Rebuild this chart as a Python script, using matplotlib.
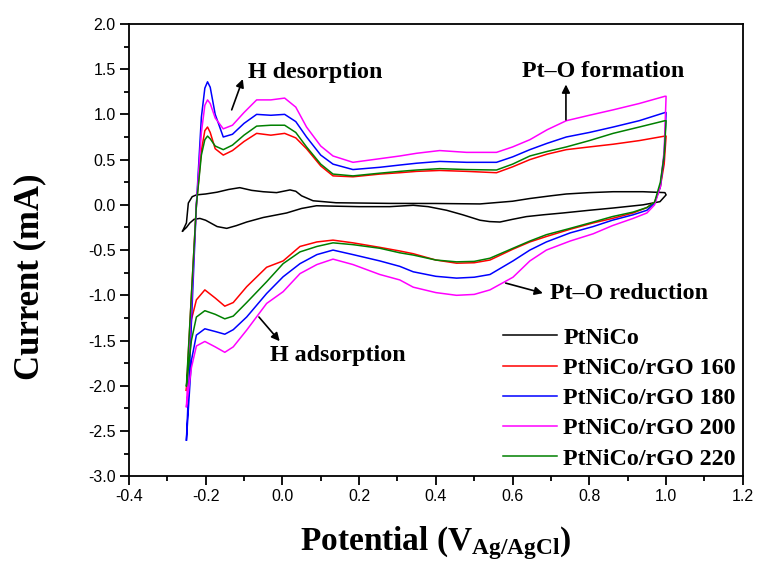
"""Cyclic voltammograms of PtNiCo and PtNiCo/rGO catalysts."""

import matplotlib
matplotlib.use("Agg")
from matplotlib import pyplot as plt
from matplotlib.ticker import MultipleLocator

# anodic sweep (-0.25 V -> 1.0 V), shared potential grid for rGO samples
xa = [-0.25, -0.237, -0.224, -0.211, -0.202, -0.195, -0.188, -0.175, -0.154,
      -0.13, -0.1, -0.067, -0.03, 0.006, 0.035, 0.063, 0.1, 0.132, 0.184,
      0.254, 0.306, 0.35, 0.41, 0.48, 0.558, 0.6, 0.645, 0.69, 0.74, 0.8,
      0.862, 0.93, 0.997, 1.0]
# cathodic sweep (1.0 V -> -0.25 V)
xc = [1.0, 0.995, 0.985, 0.97, 0.95, 0.914, 0.86, 0.81, 0.75, 0.688, 0.645,
      0.601, 0.541, 0.5, 0.454, 0.4, 0.341, 0.306, 0.254, 0.184, 0.132, 0.09,
      0.046, 0.002, -0.041, -0.093, -0.128, -0.15, -0.175, -0.202, -0.224,
      -0.237, -0.25]

red_a = [-2.05, -1.0, 0.0, 0.6, 0.82, 0.86, 0.80, 0.62, 0.55, 0.60, 0.70,
         0.79, 0.77, 0.79, 0.74, 0.62, 0.43, 0.32, 0.31, 0.34, 0.355, 0.37,
         0.38, 0.37, 0.355, 0.42, 0.50, 0.56, 0.61, 0.64, 0.67, 0.71, 0.76,
         0.76]
red_c = [0.76, 0.45, 0.2, 0.03, -0.03, -0.09, -0.15, -0.20, -0.27, -0.35,
         -0.41, -0.49, -0.61, -0.64, -0.645, -0.61, -0.54, -0.51, -0.47, -0.42,
         -0.39, -0.41, -0.46, -0.62, -0.69, -0.905, -1.08, -1.12, -1.03, -0.94,
         -1.05, -1.27, -2.05]

blue_a = [-2.60, -1.3, 0.0, 0.97, 1.29, 1.36, 1.30, 1.0, 0.75, 0.78, 0.90,
          1.0, 0.99, 1.0, 0.92, 0.75, 0.55, 0.45, 0.39, 0.415, 0.44, 0.46,
          0.48, 0.47, 0.47, 0.53, 0.61, 0.68, 0.75, 0.80, 0.86, 0.93, 1.02,
          1.02]
blue_c = [1.02, 0.55, 0.2, 0.02, -0.06, -0.11, -0.17, -0.24, -0.31, -0.41,
          -0.50, -0.62, -0.77, -0.80, -0.81, -0.79, -0.74, -0.68, -0.62, -0.55,
          -0.50, -0.55, -0.65, -0.795, -0.98, -1.24, -1.38, -1.43, -1.40, -1.37,
          -1.44, -1.72, -2.60]

mag_a = [-2.23, -1.1, 0.0, 0.8, 1.10, 1.16, 1.12, 0.96, 0.84, 0.88, 1.02,
         1.16, 1.16, 1.18, 1.08, 0.86, 0.65, 0.54, 0.47, 0.51, 0.54, 0.57,
         0.60, 0.58, 0.58, 0.64, 0.72, 0.83, 0.93, 0.99, 1.05, 1.12, 1.20,
         1.20]
mag_c = [1.20, 0.6, 0.2, 0.0, -0.09, -0.15, -0.23, -0.32, -0.40, -0.50,
         -0.62, -0.80, -0.94, -0.99, -1.0, -0.97, -0.91, -0.83, -0.77, -0.66,
         -0.60, -0.66, -0.76, -0.96, -1.09, -1.385, -1.57, -1.63, -1.57, -1.51,
         -1.56, -1.8, -2.23]

green_a = [-2.0, -1.0, 0.0, 0.55, 0.72, 0.76, 0.73, 0.65, 0.61, 0.66, 0.77,
           0.87, 0.88, 0.88, 0.80, 0.64, 0.45, 0.34, 0.32, 0.35, 0.37, 0.385,
           0.40, 0.39, 0.385, 0.45, 0.54, 0.59, 0.64, 0.71, 0.79, 0.86, 0.93,
           0.93]
green_c = [0.93, 0.55, 0.25, 0.03, -0.03, -0.08, -0.13, -0.19, -0.26, -0.33,
           -0.40, -0.48, -0.59, -0.625, -0.63, -0.61, -0.555, -0.53, -0.48,
           -0.44, -0.42, -0.46, -0.52, -0.65, -0.85, -1.08, -1.23, -1.26, -1.21,
           -1.17, -1.24, -1.5, -2.0]

# bare PtNiCo, its own grid
xk_a = [-0.26, -0.25, -0.245, -0.235, -0.224, -0.2, -0.17, -0.14, -0.111,
        -0.08, -0.05, -0.015, 0.02, 0.035, 0.05, 0.08, 0.14, 0.2, 0.28, 0.4,
        0.515, 0.6, 0.645, 0.7, 0.74, 0.8, 0.862, 0.94, 0.997, 1.0]
k_a = [-0.29, -0.2, 0.02, 0.09, 0.11, 0.12, 0.14, 0.17, 0.19, 0.16, 0.145,
       0.135, 0.165, 0.15, 0.10, 0.045, 0.023, 0.02, 0.016, 0.015, 0.01, 0.04,
       0.07, 0.10, 0.12, 0.135, 0.145, 0.145, 0.135, 0.11]
xk_c = [1.0, 0.984, 0.94, 0.862, 0.8, 0.731, 0.68, 0.636, 0.6, 0.567, 0.54,
        0.515, 0.47, 0.428, 0.38, 0.341, 0.28, 0.2, 0.141, 0.089, 0.05, 0.011,
        -0.05, -0.093, -0.12, -0.145, -0.17, -0.2, -0.215, -0.23, -0.241,
        -0.25, -0.26]
k_c = [0.11, 0.035, 0.0, -0.035, -0.06, -0.09, -0.11, -0.13, -0.16, -0.19,
       -0.185, -0.17, -0.11, -0.06, -0.02, -0.005, -0.02, -0.02, -0.015, -0.01,
       -0.04, -0.09, -0.14, -0.19, -0.23, -0.26, -0.24, -0.17, -0.15, -0.16,
       -0.2, -0.25, -0.29]

labels = ["PtNiCo", "PtNiCo/rGO 160", "PtNiCo/rGO 180", "PtNiCo/rGO 200",
          "PtNiCo/rGO 220"]
colors = ["#000000", "#ff0000", "#0000ff", "#ff00ff", "#008000"]


def main():
    plt.rcParams["axes.unicode_minus"] = False
    plt.rcParams["mathtext.fontset"] = "custom"
    plt.rcParams["mathtext.rm"] = "Liberation Serif:bold"
    plt.rcParams["mathtext.it"] = "Liberation Serif:bold"
    plt.rcParams["mathtext.bf"] = "Liberation Serif:bold"

    fig = plt.figure(figsize=(7.58, 5.69), dpi=100)
    ax = fig.add_axes([0.170, 0.163, 0.810, 0.795])

    curves = [
        (xk_a + xk_c, k_a + k_c),
        (xa + xc, red_a + red_c),
        (xa + xc, blue_a + blue_c),
        (xa + xc, mag_a + mag_c),
        (xa + xc, green_a + green_c),
    ]
    for (xs, ys), lab, col in zip(curves, labels, colors):
        ax.plot(xs, ys, color=col, lw=1.1, label=lab)

    ax.set_xlim(-0.4, 1.2)
    ax.set_ylim(-3.0, 2.0)
    ax.xaxis.set_major_locator(MultipleLocator(0.2))
    ax.xaxis.set_minor_locator(MultipleLocator(0.1))
    ax.yaxis.set_major_locator(MultipleLocator(0.5))
    ax.yaxis.set_minor_locator(MultipleLocator(0.25))
    ax.tick_params(which="both", direction="out", top=False, right=False,
                   width=1.3, pad=3)
    ax.tick_params(which="major", length=6.5)
    ax.tick_params(which="minor", length=3.5)
    for lab in ax.get_xticklabels() + ax.get_yticklabels():
        lab.set_fontfamily("Liberation Sans")
        lab.set_fontsize(11.5)
    for sp in ax.spines.values():
        sp.set_linewidth(1.3)

    serif_bold = dict(family="Liberation Serif", weight="bold")
    ax.set_ylabel("Current (mA)", fontsize=25, va="center", **serif_bold)
    ax.yaxis.set_label_coords(-0.161, 0.442)
    ax.set_xlabel(r"Potential (V$_{\mathregular{Ag/AgCl}}$)", fontsize=24,
                  labelpad=14, **serif_bold)

    arrow = dict(arrowstyle="-|>", color="k", lw=1.2, mutation_scale=12,
                 shrinkA=0, shrinkB=0)
    ann = dict(fontsize=17.3, va="center", **serif_bold)
    ax.annotate("", xy=(-0.103, 1.39), xytext=(-0.132, 1.05), arrowprops=arrow)
    ax.text(-0.09, 1.46, "H desorption", ha="left", **ann)
    ax.annotate("", xy=(0.739, 1.33), xytext=(0.739, 0.94), arrowprops=arrow)
    ax.text(0.836, 1.47, "Pt\u2013O formation", ha="center", **ann)
    ax.annotate("", xy=(0.679, -0.976), xytext=(0.582, -0.865),
                arrowprops=arrow)
    ax.text(0.697, -0.975, "Pt\u2013O reduction", ha="left", **ann)
    ax.annotate("", xy=(-0.007, -1.507), xytext=(-0.061, -1.24),
                arrowprops=arrow)
    ax.text(-0.033, -1.67, "H adsorption", ha="left", **ann)

    ax.legend(loc="upper left", bbox_to_anchor=(0.609, 0.33), frameon=False,
              prop=dict(family="Liberation Serif", weight="bold", size=17.3),
              handlelength=2.25, handletextpad=0.27, labelspacing=0.35,
              borderaxespad=0, borderpad=0)

    fig.savefig("out.png", dpi=100)


if __name__ == "__main__":
    main()
